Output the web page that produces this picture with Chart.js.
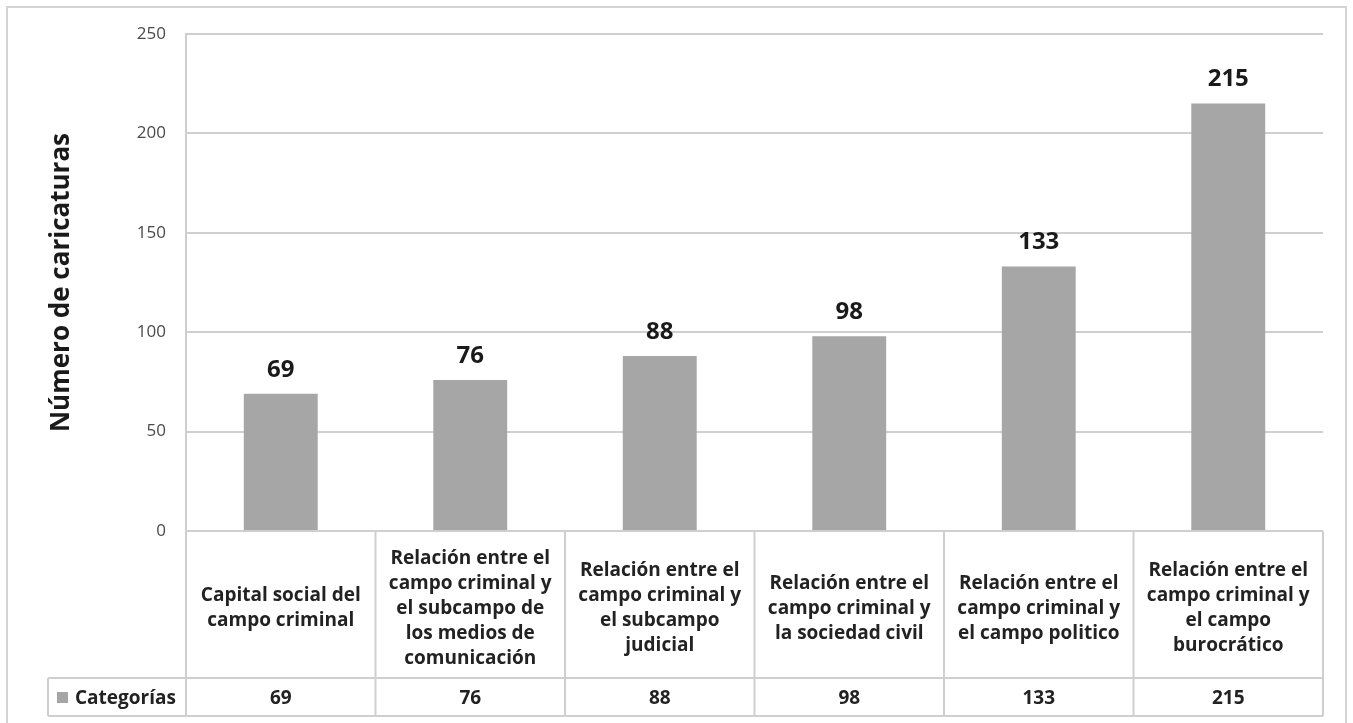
<!DOCTYPE html>
<html>
<head>
<meta charset="utf-8">
<script src="https://cdn.jsdelivr.net/npm/chart.js@4.4.1/dist/chart.umd.min.js"></script>
<style>
  body { margin: 0; background: #fff; }
  canvas { display: block; }
</style>
</head>
<body>
<canvas id="myChart" width="1353" height="723"></canvas>
<script>
// datos de la grafica
const categorias = [
    ['Capital social del', 'campo criminal'],
    ['Relación entre el', 'campo criminal y', 'el subcampo de', 'los medios de', 'comunicación'],
    ['Relación entre el', 'campo criminal y', 'el subcampo', 'judicial'],
    ['Relación entre el', 'campo criminal y', 'la sociedad civil'],
    ['Relación entre el', 'campo criminal y', 'el campo politico'],
    ['Relación entre el', 'campo criminal y', 'el campo', 'burocrático']
];
const valores = [69, 76, 88, 98, 133, 215];
const nombreSerie = 'Categorías';
const tituloEje = 'Número de caricaturas';

const fuente = "'Open Sans', sans-serif";
const gris = '#a6a6a6';
const linea = '#cfcfcf';

// etiquetas encima de las barras
const etiquetasPlugin = {
    id: 'etiquetas',
    afterDatasetsDraw(chart) {
        const ctx = chart.ctx;
        const meta = chart.getDatasetMeta(0);
        ctx.save();
        ctx.font = 'bold 24px ' + fuente;
        ctx.fillStyle = '#1a1a1a';
        ctx.textAlign = 'center';
        ctx.textBaseline = 'middle';
        meta.data.forEach((bar, i) => {
            ctx.fillText(valores[i], bar.x, bar.y - 24);
        });
        ctx.restore();
    }
};

// tabla de datos debajo del grafico + borde exterior
const tablaPlugin = {
    id: 'tabla',
    afterDraw(chart) {
        const ctx = chart.ctx;
        const x = chart.scales.x;
        const area = chart.chartArea;
        const colW = x.width / categorias.length;
        const yTop = area.bottom;
        const yMid = yTop + 147;
        const yBot = yTop + 185;
        const leyIzq = 48;

        ctx.save();
        ctx.strokeStyle = linea;
        ctx.lineWidth = 2;
        ctx.beginPath();
        for (let i = 0; i <= categorias.length; i++) {
            const cx = x.left + i * colW;
            ctx.moveTo(cx, yTop);
            ctx.lineTo(cx, yBot);
        }
        ctx.moveTo(leyIzq, yMid);
        ctx.lineTo(x.right, yMid);
        ctx.moveTo(leyIzq, yBot);
        ctx.lineTo(x.right, yBot);
        ctx.moveTo(leyIzq, yMid);
        ctx.lineTo(leyIzq, yBot);
        ctx.stroke();

        ctx.fillStyle = '#222';
        ctx.textAlign = 'center';
        ctx.textBaseline = 'middle';
        ctx.font = 'bold 19px ' + fuente;
        const lh = 25;
        const filaVal = (yMid + yBot) / 2 + 2;
        categorias.forEach((lineas, i) => {
            const cx = x.getPixelForValue(i);
            const y0 = (yTop + yMid) / 2 + 4 - (lineas.length - 1) * lh / 2;
            lineas.forEach((t, j) => ctx.fillText(t, cx, y0 + j * lh));
            ctx.fillText(valores[i], cx, filaVal);
        });

        // leyenda
        ctx.fillStyle = gris;
        ctx.fillRect(57, filaVal - 7, 11, 11);
        ctx.fillStyle = '#222';
        ctx.textAlign = 'left';
        ctx.fillText(nombreSerie, 75, filaVal);

        // borde exterior
        ctx.strokeStyle = '#d4d4d4';
        ctx.lineWidth = 2;
        ctx.beginPath();
        ctx.moveTo(7, 730);
        ctx.lineTo(7, 7);
        ctx.lineTo(1346, 7);
        ctx.lineTo(1346, 730);
        ctx.stroke();
        ctx.restore();
    }
};

const ctx = document.getElementById('myChart').getContext('2d');
const myChart = new Chart(ctx, {
    type: 'bar',
    data: {
        labels: categorias,
        datasets: [{
            label: nombreSerie,
            data: valores,
            backgroundColor: gris,
            borderWidth: 0,
            barPercentage: 0.78,
            categoryPercentage: 0.5
        }]
    },
    options: {
        responsive: false,
        animation: false,
        layout: {
            padding: { top: 34, bottom: 192, right: 30, left: 0 }
        },
        plugins: {
            legend: { display: false },
            tooltip: { enabled: false }
        },
        scales: {
            x: {
                display: false
            },
            y: {
                min: 0,
                max: 250,
                ticks: {
                    stepSize: 50,
                    padding: 20,
                    color: '#4a4a4a',
                    font: { family: fuente, size: 17 }
                },
                grid: {
                    color: linea,
                    lineWidth: 2,
                    drawTicks: false
                },
                border: { color: linea, width: 2 },
                title: {
                    display: true,
                    text: tituloEje,
                    color: '#1a1a1a',
                    font: { family: fuente, size: 26, weight: 'bold' },
                    padding: { top: 46, bottom: 0 }
                },
                afterFit(scale) {
                    scale.width = 186;
                }
            }
        }
    },
    plugins: [etiquetasPlugin, tablaPlugin]
});
</script>
</body>
</html>
